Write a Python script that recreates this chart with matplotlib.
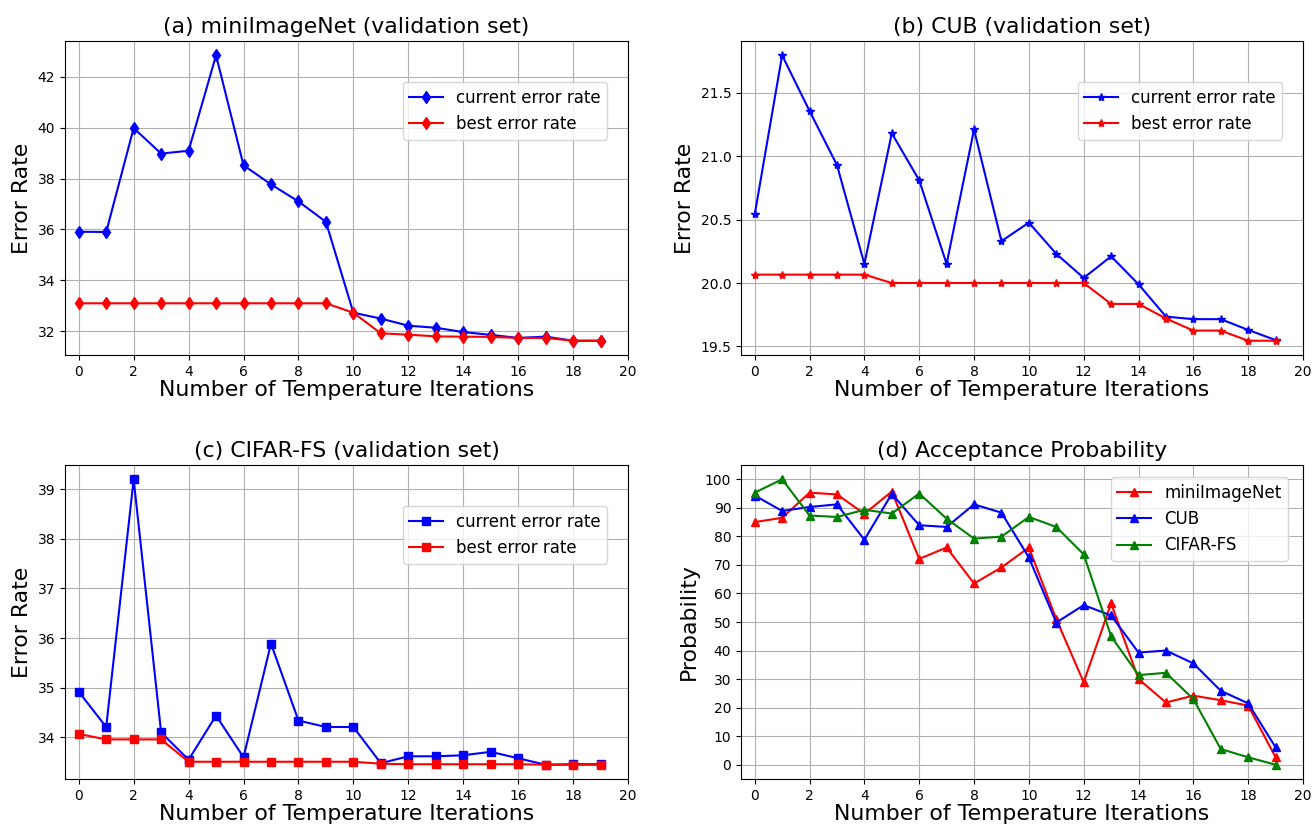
import matplotlib
matplotlib.use("Agg")
import matplotlib.pyplot as plt
import numpy as np

iters = list(range(20))
xticks = list(range(0, 21, 2))

# (a) miniImageNet
mini_current = [35.91, 35.9, 39.98, 38.98, 39.09, 42.84, 38.52, 37.77, 37.1, 36.3,
                32.73, 32.5, 32.22, 32.14, 31.97, 31.86, 31.74, 31.79, 31.63, 31.63]
mini_best = [33.1, 33.1, 33.1, 33.1, 33.1, 33.1, 33.1, 33.1, 33.1, 33.1,
             32.73, 31.92, 31.87, 31.8, 31.79, 31.78, 31.74, 31.74, 31.63, 31.63]

# (b) CUB
cub_current = [20.54, 21.795, 21.356, 20.93, 20.15, 21.18, 20.81, 20.15, 21.21, 20.33,
               20.476, 20.23, 20.04, 20.21, 19.99, 19.735, 19.715, 19.715, 19.63, 19.55]
cub_best = [20.066, 20.066, 20.066, 20.066, 20.066, 20.0, 20.0, 20.0, 20.0, 20.0,
            20.0, 20.0, 20.0, 19.835, 19.835, 19.72, 19.625, 19.625, 19.545, 19.545]

# (c) CIFAR-FS
cifar_current = [34.92, 34.21, 39.2, 34.1, 33.55, 34.44, 33.6, 35.89, 34.34, 34.21,
                 34.21, 33.48, 33.62, 33.62, 33.64, 33.71, 33.58, 33.45, 33.46, 33.46]
cifar_best = [34.07, 33.96, 33.96, 33.96, 33.51, 33.51, 33.51, 33.51, 33.51, 33.51,
              33.51, 33.47, 33.46, 33.46, 33.46, 33.46, 33.46, 33.45, 33.45, 33.45]

# (d) Acceptance probability
prob_mini = [85.0, 86.5, 95.3, 94.7, 87.9, 95.7, 72.1, 76.1, 63.5, 69.1,
             76.1, 51.0, 28.9, 56.5, 30.0, 21.8, 24.2, 22.6, 20.7, 2.6]
prob_cub = [94.3, 88.9, 90.3, 91.2, 78.8, 94.9, 83.9, 83.3, 91.2, 88.3,
            72.6, 49.8, 55.9, 52.3, 39.3, 40.0, 35.5, 25.9, 21.5, 6.1]
prob_cifar = [95.3, 100.0, 87.3, 86.8, 89.3, 88.0, 95.0, 86.2, 79.2, 79.9,
              86.8, 83.3, 73.7, 45.0, 31.4, 32.2, 23.0, 5.5, 2.6, 0.0]

titles = ["(a) miniImageNet (validation set)", "(b) CUB (validation set)",
          "(c) CIFAR-FS (validation set)", "(d) Acceptance Probability"]
xlabel = "Number of Temperature Iterations"

W, H = 1314, 825
fig = plt.figure(figsize=(W / 100, H / 100), dpi=100)

def px_axes(l, r, t, b):
    return fig.add_axes([l / W, 1 - b / H, (r - l) / W, (b - t) / H])

ax_a = px_axes(65, 628, 41, 355)
ax_b = px_axes(741, 1303, 41, 355)
ax_c = px_axes(65, 628, 465, 779)
ax_d = px_axes(741, 1303, 465, 779)

TITLE_FS = 15.8
LABEL_FS = 15.8
TICK_FS = 10
LEG_FS = 12

def style(ax, title, ylabel):
    ax.set_title(title, fontsize=TITLE_FS)
    ax.set_xlabel(xlabel, fontsize=LABEL_FS, labelpad=1)
    ax.set_ylabel(ylabel, fontsize=LABEL_FS)
    ax.set_xticks(xticks)
    ax.set_xlim(-0.5, 20)
    ax.tick_params(labelsize=TICK_FS)
    ax.grid(True)
    ax.set_axisbelow(True)

for ax, cur, best, mk, title in [
    (ax_a, mini_current, mini_best, 'd', titles[0]),
    (ax_b, cub_current, cub_best, '*', titles[1]),
    (ax_c, cifar_current, cifar_best, 's', titles[2]),
]:
    ax.plot(iters, cur, color='b', marker=mk, markersize=6, label='current error rate')
    ax.plot(iters, best, color='r', marker=mk, markersize=6, label='best error rate')
    style(ax, title, "Error Rate")
    ax.legend(loc='upper right', bbox_to_anchor=(0.978, 0.896), fontsize=LEG_FS)

ax_d.plot(iters, prob_mini, color='r', marker='^', markersize=6, label='miniImageNet')
ax_d.plot(iters, prob_cub, color='b', marker='^', markersize=6, label='CUB')
ax_d.plot(iters, prob_cifar, color='g', marker='^', markersize=6, label='CIFAR-FS')
style(ax_d, titles[3], "Probability")
ax_d.set_yticks(list(range(0, 101, 10)))
ax_d.legend(loc='upper right', bbox_to_anchor=(0.988, 0.988), fontsize=LEG_FS)

fig.savefig("out.png", dpi=100)
